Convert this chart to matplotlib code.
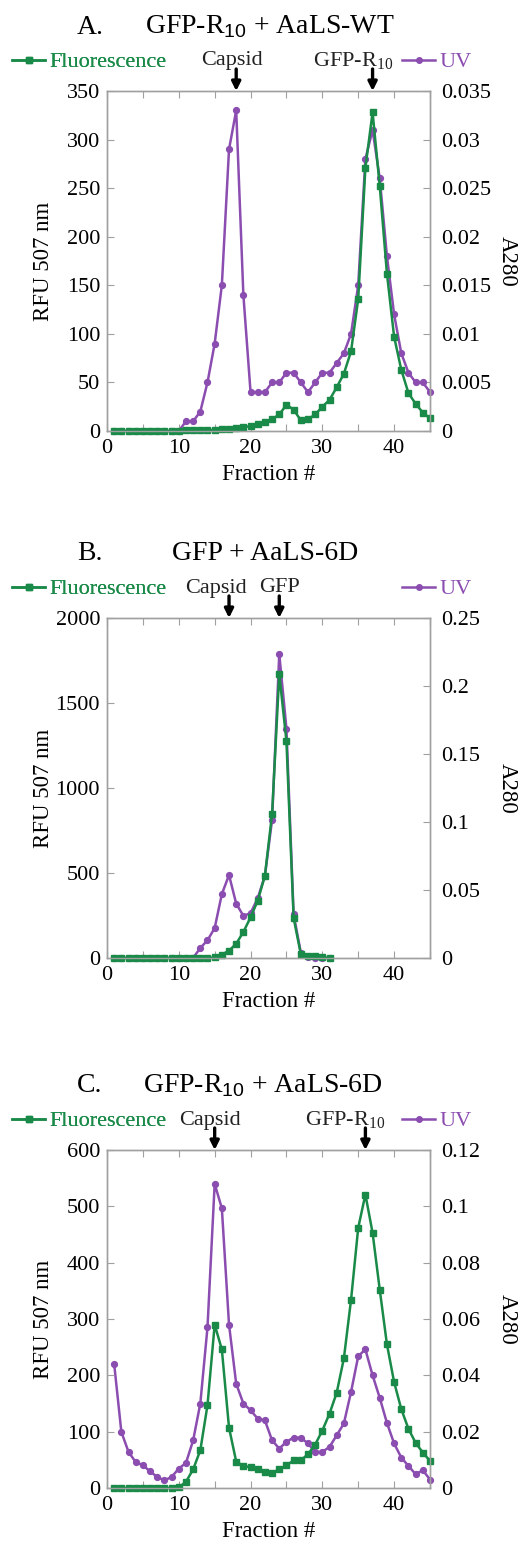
import matplotlib
matplotlib.use('Agg')
from matplotlib import pyplot as plt
from matplotlib.lines import Line2D
from matplotlib.ticker import FormatStrFormatter, MultipleLocator

plt.rcParams['font.family'] = ['Liberation Serif', 'DejaVu Serif']
plt.rcParams['mathtext.fontset'] = 'custom'
plt.rcParams['mathtext.rm'] = 'Liberation Serif'
plt.rcParams['mathtext.sf'] = 'Liberation Sans'

GREEN = '#198a48'
PURPLE = '#8b4db0'
GREY = '#a0a0a0'

# A. GFP-R10 + AaLS-WT
frac_a = list(range(1, 46))
fluor_a = [0, 0, 0, 0, 0, 0, 0, 0, 0, 0, 1, 1, 1, 1, 1, 2, 2, 3, 4, 5,
           7, 9, 12, 17, 27, 22, 11, 12, 17, 25, 32, 45, 59, 82, 136, 271, 328, 252, 162, 97,
           63, 39, 28, 19, 13]
uv_a = [0, 0, 0, 0, 0, 0, 0, 0, 0, 0, 0.001, 0.001, 0.002, 0.005, 0.009, 0.015, 0.029, 0.033, 0.014, 0.004,
        0.004, 0.004, 0.005, 0.005, 0.006, 0.006, 0.005, 0.004, 0.005, 0.006, 0.006, 0.007, 0.008, 0.010, 0.015,
        0.028, 0.031, 0.026, 0.018, 0.012, 0.008, 0.006, 0.005, 0.005, 0.004]

# B. GFP + AaLS-6D
frac_b = list(range(1, 32))
fluor_b = [0, 0, 0, 0, 0, 0, 0, 0, 0, 0, 0, 0, 0, 0, 3, 20, 43, 84, 153, 239,
           337, 484, 849, 1671, 1275, 235, 24, 14, 10, 4, 0]
uv_b = [0, 0, 0, 0, 0, 0, 0, 0, 0, 0, 0, 0, 0.0074, 0.013, 0.022, 0.047, 0.061, 0.040, 0.031, 0.033,
        0.044, 0.0605, 0.1017, 0.2235, 0.1686, 0.032, 0.004, 0.001, 0, 0, 0]

# C. GFP-R10 + AaLS-6D
frac_c = list(range(1, 46))
fluor_c = [0, 0, 0, 0, 0, 0, 0, 0, 0, 1, 11, 33, 67, 147, 290, 246, 107, 47, 39, 37,
           34, 28, 27, 33, 40, 49, 49, 60, 77, 102, 132, 169, 230, 334, 462, 521, 453, 352, 255, 188,
           140, 105, 80, 63, 48]
uv_c = [0.044, 0.0199, 0.0128, 0.0092, 0.0081, 0.0059, 0.0039, 0.0027, 0.0039, 0.0069,
        0.0089, 0.0169, 0.030, 0.057, 0.108, 0.0993, 0.058, 0.037, 0.030, 0.0276,
        0.0246, 0.024, 0.0169, 0.014, 0.0164, 0.0179, 0.0179, 0.0158, 0.0128, 0.0128,
        0.0146, 0.0187, 0.0229, 0.0341, 0.0468, 0.0492, 0.040, 0.032, 0.0231, 0.0158,
        0.0108, 0.0078, 0.0049, 0.0063, 0.003]

W, H = 522, 1546


def fx(px):
    return px / W


def fy(py):
    return 1 - py / H


fig = plt.figure(figsize=(W / 100, H / 100), dpi=100)


def panel(top, bottom, letter, title, frac, fluor, uv, ymax, ystep, uvmax, uvstep,
          peaks, labels):
    ax = fig.add_axes([fx(107), fy(bottom), fx(430) - fx(107), (bottom - top) / H])
    ax2 = ax.twinx()
    ax.set_zorder(ax2.get_zorder() + 1)
    ax.patch.set_visible(False)

    ax2.plot(frac, uv, color=PURPLE, lw=1.8, marker='o', ms=4.2, clip_on=False)
    ax.plot(frac, fluor, color=GREEN, lw=1.8, marker='s', ms=4.2, clip_on=False)
    ax.set_xlim(0, 45)
    ax.set_ylim(0, ymax)
    ax2.set_ylim(0, uvmax)
    ax.yaxis.set_major_locator(MultipleLocator(ystep))
    ax2.yaxis.set_major_locator(MultipleLocator(uvstep))
    ax2.yaxis.set_major_formatter(FormatStrFormatter('%g'))
    ax.set_xticks(range(0, 46, 5))
    ax.set_xticklabels([str(v) if v % 10 == 0 else '' for v in range(0, 46, 5)])

    for a in (ax, ax2):
        for s in a.spines.values():
            s.set_color(GREY)
            s.set_linewidth(1)
    ax.tick_params(axis='both', direction='in', length=5, color=GREY, labelsize=16,
                   top=True, pad=5)
    ax.tick_params(axis='x', pad=6)
    ax2.tick_params(axis='y', direction='in', length=5, color=GREY, labelsize=16, pad=8)

    ax.set_xlabel('Fraction #', fontsize=16.5, labelpad=4)
    ax.set_ylabel('RFU 507 nm', fontsize=16.5)
    ax.yaxis.set_label_coords(-0.165, 0.5)
    ax2.set_ylabel('A280', fontsize=16.5, rotation=-90, va='center')
    ax2.yaxis.set_label_coords(1.24, 0.5)

    # peak arrows
    trans = ax.get_xaxis_transform()
    h = bottom - top
    for x in peaks:
        ax.annotate('', xy=(x, 1.0), xytext=(x, 1 + 22 / h), xycoords=trans,
                    textcoords=trans,
                    arrowprops=dict(arrowstyle='-|>', color='k', lw=2.4,
                                    mutation_scale=13, shrinkA=0, shrinkB=0))
    for x, txt in labels:
        ax.text(x, 1 + 30 / h, txt, transform=trans, ha='center', va='center',
                fontsize=16, color='#222222')

    # legends
    hf = Line2D([], [], color=GREEN, lw=1.8, marker='s', ms=4)
    hu = Line2D([], [], color=PURPLE, lw=1.8, marker='o', ms=4)
    leg1 = ax.legend([hf], ['Fluorescence'], loc='center left',
                     bbox_to_anchor=(fx(12), fy(top - 29)), bbox_transform=fig.transFigure,
                     frameon=False, fontsize=16, handlelength=1.5, handletextpad=0.2,
                     labelcolor=GREEN, borderpad=0, borderaxespad=0)
    ax.add_artist(leg1)
    ax2.legend([hu], ['UV'], loc='center left',
               bbox_to_anchor=(fx(402), fy(top - 29)), bbox_transform=fig.transFigure,
               frameon=False, fontsize=16, handlelength=1.5, handletextpad=0.2,
               labelcolor=PURPLE, borderpad=0, borderaxespad=0)

    fig.text(fx(77), fy(top - 64), letter, fontsize=20, ha='left', va='center')
    fig.text(fx(title[0]), fy(top - 64), title[1], fontsize=20, ha='left', va='center')
    return ax


sub = r'$_{\mathsf{10}}$'
panel(91, 431, 'A.', (145, 'GFP-R' + sub + ' + AaLS-WT'), frac_a, fluor_a, uv_a,
      350, 50, 0.035, 0.005, [18, 37],
      [(17.4, 'Capsid'), (34.3, r'GFP-R$_{10}$')])
panel(618, 958, 'B.', (172, 'GFP + AaLS-6D'), frac_b, fluor_b, uv_b,
      2000, 500, 0.25, 0.05, [17, 24],
      [(15.2, 'Capsid'), (24, 'GFP')])
panel(1150, 1488, 'C.', (143, 'GFP-R' + sub + ' + AaLS-6D'), frac_c, fluor_c, uv_c,
      600, 100, 0.12, 0.02, [15, 36],
      [(14.3, 'Capsid'), (33.2, r'GFP-R$_{10}$')])

fig.savefig('out.png', dpi=100)
